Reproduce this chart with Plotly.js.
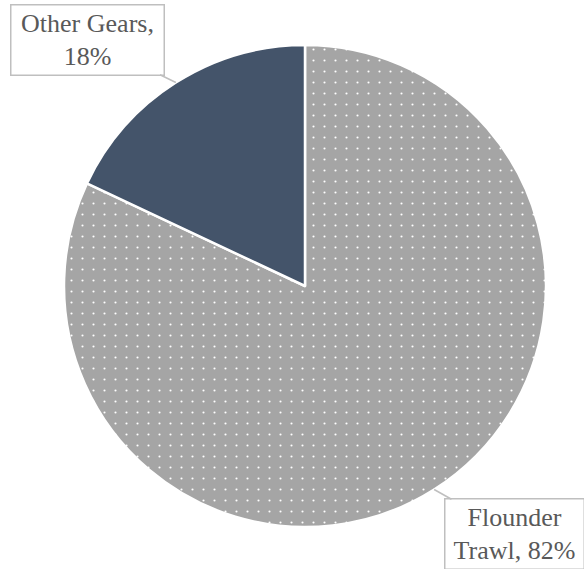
<!DOCTYPE html>
<html><head><meta charset="utf-8">
<script src="https://cdn.plot.ly/plotly-3.0.1.min.js"></script>
<style>html,body{margin:0;padding:0;background:#fff}</style>
</head><body>
<div id="chart" style="width:584px;height:569px"></div>
<script>
const categories = ["Flounder Trawl", "Other Gears"];
const values = [82, 18];
const colors = ["#a5a5a5", "#44546a"];

const W = 584, H = 569;
const cx = 305, cy = 286, R = 241;
const dom = {x: [(cx - R) / W, (cx + R) / W], y: [1 - (cy + R) / H, 1 - (cy - R) / H]};

// label box offsets (pixels from arrow head to box centre) and box widths
const labelOffsets = [[80, 45], [-88, -43]];
const labelWidths = [132, 146];
const total = values.reduce((a, b) => a + b, 0);
let acc = 0;
const annotations = values.map((v, i) => {
  const mid = (acc + v / 2) / total * 2 * Math.PI; acc += v;
  const hx = cx + R * Math.sin(mid), hy = cy - R * Math.cos(mid);
  const parts = categories[i].split(" ");
  const txt = i === 0 ? parts[0] + "<br>" + parts[1] + ", " + v + "%" : categories[i] + ",<br>" + v + "%";
  return {
    x: hx / W, y: 1 - hy / H, xref: "paper", yref: "paper",
    text: txt, showarrow: true, arrowhead: 0, arrowwidth: 1.5, arrowcolor: "#bfbfbf",
    ax: labelOffsets[i][0], ay: labelOffsets[i][1], axref: "pixel", ayref: "pixel",
    width: labelWidths[i],
    bordercolor: "#bfbfbf", borderwidth: 1.5, borderpad: 3, bgcolor: "#ffffff",
    font: {family: "Liberation Serif", size: 26, color: "#595959"},
    align: "center"
  };
});

Plotly.newPlot("chart", [{
  type: "pie", labels: categories, values: values, sort: false,
  direction: "clockwise", rotation: 0, textinfo: "none", hoverinfo: "label+percent",
  domain: dom,
  marker: {
    colors: colors, line: {color: "#ffffff", width: 2.5},
    pattern: {shape: [".", ""], fgcolor: "#ffffff", bgcolor: colors, size: 11, solidity: 0.03, fillmode: "replace"}
  }
}], {
  width: W, height: H, showlegend: false,
  font: {family: "Liberation Serif"},
  margin: {l: 0, r: 0, t: 0, b: 0},
  paper_bgcolor: "#ffffff", plot_bgcolor: "#ffffff",
  annotations: annotations
}, {displayModeBar: false, staticPlot: true});
</script>
</body></html>
